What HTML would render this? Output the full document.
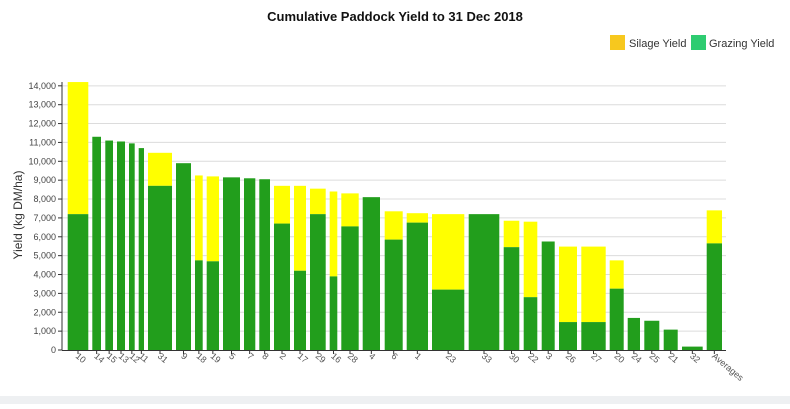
<!DOCTYPE html>
<html><head><meta charset="utf-8"><style>
body{margin:0;background:#fff;width:790px;height:404px;overflow:hidden;font-family:"Liberation Sans",sans-serif}
</style></head><body>
<svg id="s" width="790" height="404" xmlns="http://www.w3.org/2000/svg">
<rect x="0" y="396" width="790" height="8" fill="#eef0f2"/>
<text x="395" y="21" text-anchor="middle" font-size="13" font-weight="bold" fill="#111">Cumulative Paddock Yield to 31 Dec 2018</text>
<rect x="610" y="35" width="15" height="15" fill="#f7c81e"/>
<text x="629" y="47" font-size="11" fill="#333">Silage Yield</text>
<rect x="691" y="35" width="15" height="15" fill="#2ecc71"/>
<text x="709" y="47" font-size="11" fill="#333">Grazing Yield</text>
<text transform="translate(22,215) rotate(-90)" text-anchor="middle" font-size="12" fill="#333">Yield (kg DM/ha)</text>
<g id="g"></g>
</svg>
<script>
var g=document.getElementById('g'),h='';
function Y(v){return 350-v*0.01887;}
for(var i=0;i<=14;i++){var y=Y(i*1000);
 if(i>0)h+='<line x1="62" x2="726" y1="'+y+'" y2="'+y+'" stroke="#dcdcdc" stroke-width="1"/>';
 h+='<line x1="58" x2="62" y1="'+y+'" y2="'+y+'" stroke="#333"/>';
 h+='<text x="56" y="'+(y+3)+'" text-anchor="end" font-size="9" fill="#444">'+(i==0?'0':(i+',000'))+'</text>';}
var d=[['10',67.7,88.3,7200,14200],['14',92.3,101,11300,0],['15',105.3,113,11100,0],['13',117,125,11050,0],['12',129,134.7,10950,0],['11',138.7,144,10700,0],['31',148,172,8700,10450],['9',176,191,9900,0],['18',195,202.7,4750,9250],['19',206.7,219,4700,9200],['5',223,240,9150,0],['7',244,255.3,9100,0],['8',259.3,270,9050,0],['2',274,290,6700,8700],['17',294,306,4200,8700],['29',310,325.7,7200,8550],['16',329.7,337.3,3900,8400],['28',341.3,358.7,6550,8300],['4',362.7,380,8100,0],['6',384.7,402.7,5850,7350],['1',406.7,428,6750,7250],['23',432,464.3,3200,7200],['33',468.7,499.3,7200,0],['30',503.7,519.3,5450,6850],['22',523.7,537.3,2800,6800],['3',541.7,554.7,5750,0],['26',559,577,1480,5480],['27',581.3,605.7,1480,5480],['20',609.7,623.7,3250,4750],['24',627.7,640,1700,0],['25',644.3,659.3,1550,0],['21',663.7,677.7,1080,0],['32',682,702.7,180,0],['Averages',706.7,722,5650,7400]];
d.forEach(function(b){var w=b[2]-b[1],c=(b[1]+b[2])/2;
 if(b[4])h+='<rect x="'+b[1]+'" y="'+Y(b[4])+'" width="'+w+'" height="'+(Y(b[3])-Y(b[4]))+'" fill="#ffff00"/>';
 h+='<rect x="'+b[1]+'" y="'+Y(b[3])+'" width="'+w+'" height="'+(350-Y(b[3]))+'" fill="#229e1c"/>';
 h+='<line x1="'+c+'" x2="'+c+'" y1="350" y2="354" stroke="#333"/>';
 h+='<text transform="translate('+(c-3)+',357) rotate(40)" font-size="9" fill="#555">'+b[0]+'</text>';});
h+='<line x1="62" x2="62" y1="82" y2="350" stroke="#333"/><line x1="62" x2="726" y1="350.5" y2="350.5" stroke="#333"/>';
g.innerHTML=h;
</script>
</body></html>
